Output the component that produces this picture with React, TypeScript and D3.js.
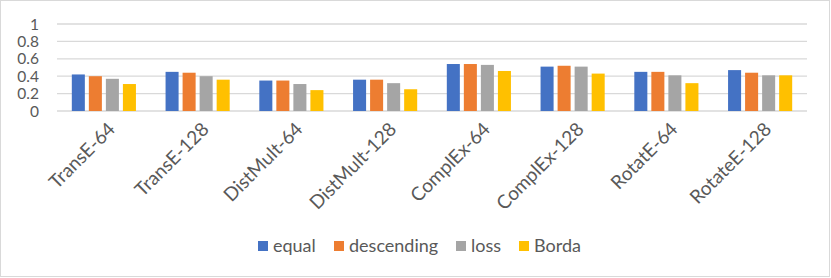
import * as d3 from "d3";

const categories = [
  "TransE-64",
  "TransE-128",
  "DistMult-64",
  "DistMult-128",
  "ComplEx-64",
  "ComplEx-128",
  "RotatE-64",
  "RotateE-128",
];
const seriesNames = ["equal", "descending", "loss", "Borda"];
const equal = [0.42, 0.45, 0.35, 0.36, 0.54, 0.51, 0.45, 0.47];
const descending = [0.4, 0.44, 0.35, 0.36, 0.54, 0.52, 0.45, 0.44];
const loss = [0.37, 0.4, 0.31, 0.32, 0.53, 0.51, 0.41, 0.41];
const borda = [0.31, 0.36, 0.24, 0.25, 0.46, 0.43, 0.32, 0.41];
const yTicks = [0, 0.2, 0.4, 0.6, 0.8, 1];

const colors = ["#4472C4", "#ED7D31", "#A5A5A5", "#FFC000"];
const values = [equal, descending, loss, borda];

const W = 831;
const H = 278;
const font = "Lato, 'Open Sans', sans-serif";

export default function App() {
  const x0 = d3.scaleBand<string>().domain(categories).range([57, 807]).padding(0);
  const gw = x0.bandwidth();
  const x1 = d3
    .scaleBand<string>()
    .domain(seriesNames)
    .range([gw * 0.158, gw * 0.842])
    .paddingInner(0.235)
    .paddingOuter(0);
  const y = d3.scaleLinear().domain([0, 1]).range([111, 24]);

  // legend square positions
  const legendX = [258, 334, 456, 519];

  return (
    <div style={{ position: "absolute", left: 0, top: 0 }}>
      <svg width={W} height={H} style={{ display: "block", fontFamily: font }}>
        <rect x={0} y={0} width={W} height={H} fill="#fff" />
        <rect x={0.5} y={0.5} width={W - 2} height={H - 2} fill="none" stroke="#d9d9d9" />

        {/* grid */}
        {yTicks.map((t) => (
          <line
            key={t}
            x1={57}
            x2={807}
            y1={y(t)}
            y2={y(t)}
            stroke="#d9d9d9"
            strokeWidth={1.3}
          />
        ))}
        {yTicks.map((t) => (
          <text
            key={"l" + t}
            x={39}
            y={y(t)}
            dy="0.36em"
            textAnchor="end"
            fontSize={15.5}
            fill="#595959"
          >
            {d3.format("~g")(t)}
          </text>
        ))}

        {/* bars */}
        {categories.map((c, i) => (
          <g key={c} transform={`translate(${x0(c)},0)`}>
            {seriesNames.map((s, j) => (
              <rect
                key={s}
                x={x1(s)}
                y={y(values[j][i])}
                width={x1.bandwidth()}
                height={y(0) - y(values[j][i])}
                fill={colors[j]}
              />
            ))}
          </g>
        ))}

        {/* x labels */}
        {categories.map((c) => (
          <text
            key={"x" + c}
            transform={`translate(${(x0(c) ?? 0) + gw / 2 + 3},${121}) rotate(-45)`}
            textAnchor="end"
            dy="0.7em"
            fontSize={19}
            fill="#595959"
          >
            {c}
          </text>
        ))}

        {/* legend */}
        {seriesNames.map((s, j) => (
          <g key={"lg" + s}>
            <rect x={legendX[j]} y={241} width={10} height={10} fill={colors[j]} />
            <text x={legendX[j] + 15} y={246} dy="0.36em" fontSize={18} fill="#595959">
              {s}
            </text>
          </g>
        ))}
      </svg>
    </div>
  );
}
